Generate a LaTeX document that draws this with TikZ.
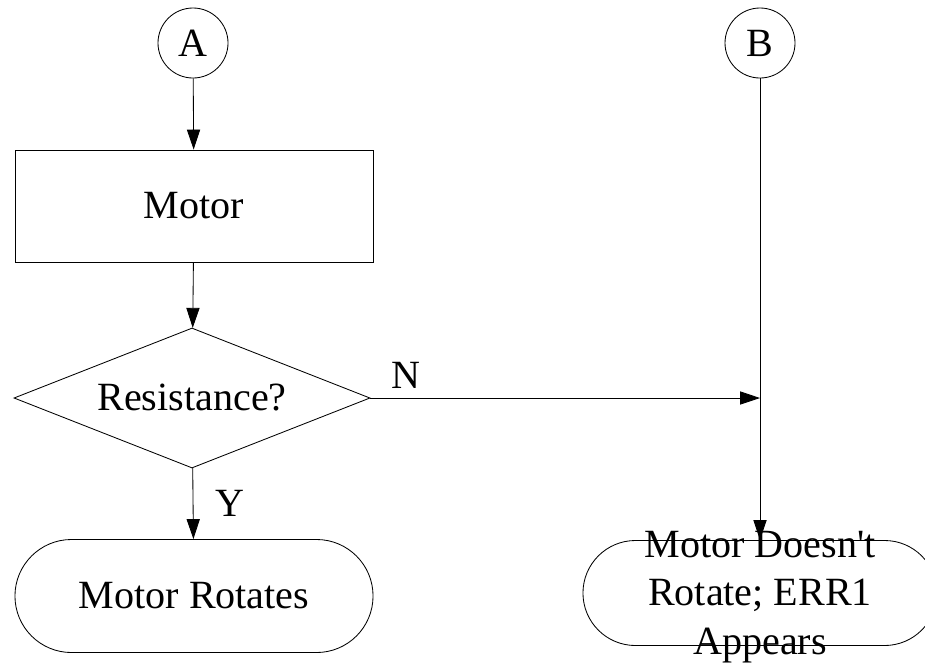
\documentclass[tikz,border=0pt]{standalone}
\usepackage{fontspec}
\setmainfont{Liberation Serif}
\usetikzlibrary{shapes.geometric,shapes.misc,arrows.meta}

\begin{document}
\begin{tikzpicture}[x=0.025cm, y=-0.025cm,
        font=\fontsize{28.5}{34.5}\selectfont, line width=0.6pt,
        every node/.style={inner sep=0pt},
        connector/.style={circle, draw, minimum size=1.75cm},
        process/.style={rectangle, draw, minimum width=8.95cm, minimum height=2.8cm},
        decision/.style={diamond, draw, aspect=2.5, minimum width=8.9cm, minimum height=3.5cm},
        terminal/.style={rounded rectangle, draw},
        arrow/.style={-{Triangle[length=0.5cm, width=0.33cm]}}]
            \clip (0,0) rectangle (925,667);
            \node[connector] (A) at (193,43) {A};
            \node[connector] (B) at (760,43) {B};
            \node[process] (motor) at (194,206) {Motor};
            \draw[arrow] (A) -- (motor);
            \node[decision] (res) at (192,398) {Resistance?};
            \draw[arrow] (motor) -- (res);

            \node[terminal, minimum width=8.95cm, minimum height=2.825cm] (rot) at (194,596) {Motor Rotates};
            \draw[arrow] (res) -- (rot) node[midway, right=0.55cm] {Y};

            \node[terminal, minimum width=8.85cm, minimum height=2.625cm] (err) at (760,593) {};
            \node[align=center] (errtext) at (760,597) {Motor Doesn\textquotesingle t\\Rotate; ERR1\\Appears};
            \coordinate (join) at (B |- res);
            \draw[arrow] (res) -- (join) node[pos=0.09, above=0.22cm] {N};
            \draw[arrow] (B) -- (err.north);
        \end{tikzpicture}
\end{document}
